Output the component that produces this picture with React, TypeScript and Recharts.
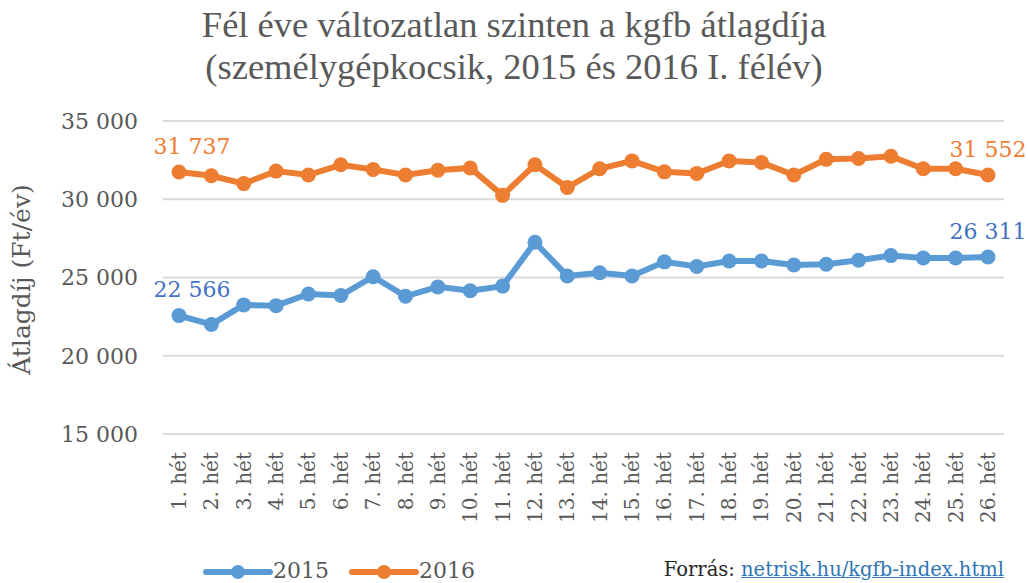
import React from 'react';
import { LineChart, Line, XAxis, YAxis, CartesianGrid, Legend, ReferenceDot } from 'recharts';

const weeks = [
  '1. hét', '2. hét', '3. hét', '4. hét', '5. hét', '6. hét', '7. hét', '8. hét', '9. hét', '10. hét',
  '11. hét', '12. hét', '13. hét', '14. hét', '15. hét', '16. hét', '17. hét', '18. hét', '19. hét', '20. hét',
  '21. hét', '22. hét', '23. hét', '24. hét', '25. hét', '26. hét',
];
const values2015 = [
  22566, 22000, 23250, 23200, 23950, 23850, 25050, 23800, 24400, 24150,
  24450, 27250, 25100, 25300, 25100, 26000, 25700, 26050, 26050, 25800,
  25850, 26100, 26400, 26250, 26250, 26311,
];
const values2016 = [
  31737, 31500, 31000, 31800, 31550, 32200, 31900, 31550, 31850, 32000,
  30250, 32200, 30750, 31950, 32450, 31750, 31650, 32450, 32350, 31550,
  32550, 32600, 32750, 31950, 31950, 31552,
];
const yTicks = [15000, 20000, 25000, 30000, 35000];
const seriesNames = ['2015', '2016'];
const titleLines = ['Fél éve változatlan szinten a kgfb átlagdíja', '(személygépkocsik, 2015 és 2016 I. félév)'];
const yAxisTitle = 'Átlagdíj (Ft/év)';
const sourceLabel = 'Forrás: ';
const sourceLink = 'netrisk.hu/kgfb-index.html';

const data = weeks.map((w, i) => ({ week: w, s2015: values2015[i], s2016: values2016[i] }));

const BLUE = '#5B9BD5';
const BLUE_LABEL = '#4472C4';
const ORANGE = '#ED7D31';
const GRAY = '#595959';
const AXIS_FONT = '"DejaVu Serif", serif';

const fmt = (v: number) => String(v).replace(/\B(?=(\d{3})+(?!\d))/g, ' ');

const XTick = (props: any) => {
  const { x, y, payload } = props;
  return (
    <text
      x={x}
      y={y}
      transform={`rotate(-90, ${x}, ${y})`}
      textAnchor="end"
      dy="0.35em"
      fill={GRAY}
      fontSize={20}
      fontFamily={AXIS_FONT}
    >
      {payload.value}
    </text>
  );
};

const YLabel = (props: any) => {
  const vb = props.viewBox || {};
  const cx = 30;
  const cy = vb.y + vb.height / 2 + 2;
  return (
    <text
      x={cx}
      y={cy}
      transform={`rotate(-90, ${cx}, ${cy})`}
      textAnchor="middle"
      fill={GRAY}
      fontSize={25}
      fontFamily={AXIS_FONT}
    >
      {yAxisTitle}
    </text>
  );
};

const EndLabel = (props: any) => {
  const { viewBox, color, text, dx } = props;
  const vb = viewBox || {};
  const cx = (vb.x || 0) + (vb.width || 0) / 2;
  const cy = (vb.y || 0) + (vb.height || 0) / 2;
  return (
    <text
      x={cx + (dx || 0)}
      y={cy - 26}
      dy="0.355em"
      textAnchor="middle"
      fill={color}
      fontSize={22}
      fontFamily={AXIS_FONT}
    >
      {text}
    </text>
  );
};

const LegendContent = (props: any) => {
  const payload = props.payload || [];
  const starts = [206, 352];
  return (
    <svg width={1028} height={24} style={{ display: 'block' }}>
      {payload.map((p: any, i: number) => {
        const sx = starts[i] ?? 206 + i * 146;
        return (
          <g key={i}>
            <line x1={sx} y1={14} x2={sx + 64} y2={14} stroke={p.color} strokeWidth={6} strokeLinecap="round" />
            <circle cx={sx + 32} cy={14} r={7} fill={p.color} />
            <text x={sx + 67} y={20} fill={GRAY} fontSize={22} fontFamily={AXIS_FONT}>
              {p.value}
            </text>
          </g>
        );
      })}
    </svg>
  );
};

const last = weeks.length - 1;

export default function App() {
  return (
    <div style={{ position: 'absolute', left: 0, top: 0, width: 1028, height: 583, background: '#fff', overflow: 'hidden' }}>
      <div
        style={{
          position: 'absolute',
          left: 0,
          top: 4,
          width: 1028,
          textAlign: 'center',
          fontFamily: '"Liberation Serif", serif',
          fontSize: 36.5,
          lineHeight: '42px',
          color: GRAY,
        }}
      >
        {titleLines.map((t, i) => (
          <div key={i}>{t}</div>
        ))}
      </div>
      <LineChart
        width={1028}
        height={583}
        data={data}
        margin={{ top: 121, right: 24, left: 0, bottom: 0 }}
      >
        <CartesianGrid vertical={false} stroke="#D9D9D9" strokeWidth={2} />
        <XAxis
          dataKey="week"
          height={149}
          axisLine={false}
          tickLine={false}
          tickSize={0}
          tickMargin={18}
          interval={0}
          padding={{ left: 16, right: 16 }}
          tick={<XTick />}
        />
        <YAxis
          width={163}
          domain={[15000, 35000]}
          ticks={yTicks}
          axisLine={false}
          tickLine={false}
          tickSize={0}
          tickMargin={25}
          tickFormatter={fmt}
          tick={{ fill: GRAY, fontSize: 22, fontFamily: AXIS_FONT }}
          label={<YLabel />}
        />
        <Legend
          verticalAlign="middle"
          align="center"
          layout="horizontal"
          wrapperStyle={{ top: 558, left: 0, width: 1028, height: 24 }}
          content={<LegendContent />}
        />
        <Line
          name={seriesNames[0]}
          dataKey="s2015"
          stroke={BLUE}
          strokeWidth={6}
          dot={{ r: 7.5, fill: BLUE, stroke: BLUE, strokeWidth: 0 }}
          activeDot={false}
          isAnimationActive={false}
        />
        <Line
          name={seriesNames[1]}
          dataKey="s2016"
          stroke={ORANGE}
          strokeWidth={6}
          dot={{ r: 7.5, fill: ORANGE, stroke: ORANGE, strokeWidth: 0 }}
          activeDot={false}
          isAnimationActive={false}
        />
        <ReferenceDot x={weeks[0]} y={values2015[0]} r={0} fill="none" stroke="none" ifOverflow="visible"
          label={<EndLabel color={BLUE_LABEL} text={fmt(values2015[0])} dx={13} />} />
        <ReferenceDot x={weeks[last]} y={values2015[last]} r={0} fill="none" stroke="none" ifOverflow="visible"
          label={<EndLabel color={BLUE_LABEL} text={fmt(values2015[last])} dx={0} />} />
        <ReferenceDot x={weeks[0]} y={values2016[0]} r={0} fill="none" stroke="none" ifOverflow="visible"
          label={<EndLabel color={ORANGE} text={fmt(values2016[0])} dx={13} />} />
        <ReferenceDot x={weeks[last]} y={values2016[last]} r={0} fill="none" stroke="none" ifOverflow="visible"
          label={<EndLabel color={ORANGE} text={fmt(values2016[last])} dx={0} />} />
      </LineChart>
      <div
        style={{
          position: 'absolute',
          right: 24,
          top: 559,
          fontFamily: AXIS_FONT,
          fontSize: 19.5,
          lineHeight: '22px',
          whiteSpace: 'nowrap',
          color: '#262626',
        }}
      >
        {sourceLabel}
        <span style={{ color: '#2E75B6', textDecoration: 'underline' }}>{sourceLink}</span>
      </div>
    </div>
  );
}
